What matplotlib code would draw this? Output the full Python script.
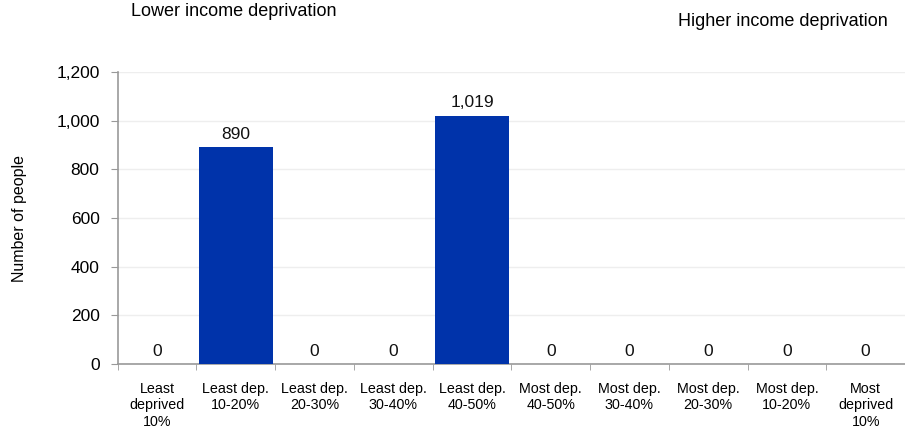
import matplotlib.pyplot as plt
import matplotlib.ticker as mticker

plt.rcParams['font.family'] = ['Liberation Sans', 'DejaVu Sans']

categories = [
    "Least\ndeprived\n10%", "Least dep.\n10-20%", "Least dep.\n20-30%",
    "Least dep.\n30-40%", "Least dep.\n40-50%", "Most dep.\n40-50%",
    "Most dep.\n30-40%", "Most dep.\n20-30%", "Most dep.\n10-20%",
    "Most\ndeprived\n10%",
]
people = [0, 890, 0, 0, 1019, 0, 0, 0, 0, 0]
y_ticks = [0, 200, 400, 600, 800, 1000, 1200]

BAR_COLOR = "#0033aa"
AXIS_COLOR = "#999999"

fig = plt.figure(figsize=(9.05, 4.33), dpi=100)
ax = fig.add_axes([0.130, 0.159, 0.870, 0.675])

x = list(range(len(categories)))
ax.bar(x, people, width=0.94, color=BAR_COLOR, zorder=3)

for xi, v in zip(x, people):
    ax.annotate(f"{v:,}", (xi, v), textcoords="offset points", xytext=(0, 4),
                ha="center", va="bottom", fontsize=12.5, color="#111111")

ax.set_xlim(-0.5, len(categories) - 0.5)
ax.set_ylim(0, 1200)
ax.set_yticks(y_ticks)
ax.yaxis.set_major_formatter(mticker.FuncFormatter(lambda v, _: f"{int(v):,}"))
ax.set_xticks(x)
ax.set_xticklabels(categories, fontsize=10.3, linespacing=1.2)
ax.set_xticks([i - 0.5 for i in range(len(categories) + 1)], minor=True)
ax.tick_params(axis='x', which='major', length=0, pad=13)
ax.tick_params(axis='x', which='minor', length=4, color=AXIS_COLOR, direction='out')
ax.tick_params(axis='y', labelsize=12.5, length=5, color=AXIS_COLOR, pad=8)

ax.grid(axis='y', color='#eeeeee', linewidth=1, zorder=0)
ax.spines['top'].set_visible(False)
ax.spines['right'].set_visible(False)
ax.spines['left'].set_color(AXIS_COLOR)
ax.spines['bottom'].set_color(AXIS_COLOR)
ax.spines['left'].set_linewidth(1.2)
ax.spines['bottom'].set_linewidth(1.2)

ax.set_ylabel("Number of people", fontsize=11.5, va="center")
ax.yaxis.set_label_coords((20 - 118) / 787, 0.5)

fig.text(131 / 905, 1 - 12 / 433, "Lower income deprivation", fontsize=13,
         ha="left", va="center")
fig.text(888 / 905, 1 - 21 / 433, "Higher income deprivation", fontsize=13,
         ha="right", va="center")

fig.savefig("out.png", dpi=100)
